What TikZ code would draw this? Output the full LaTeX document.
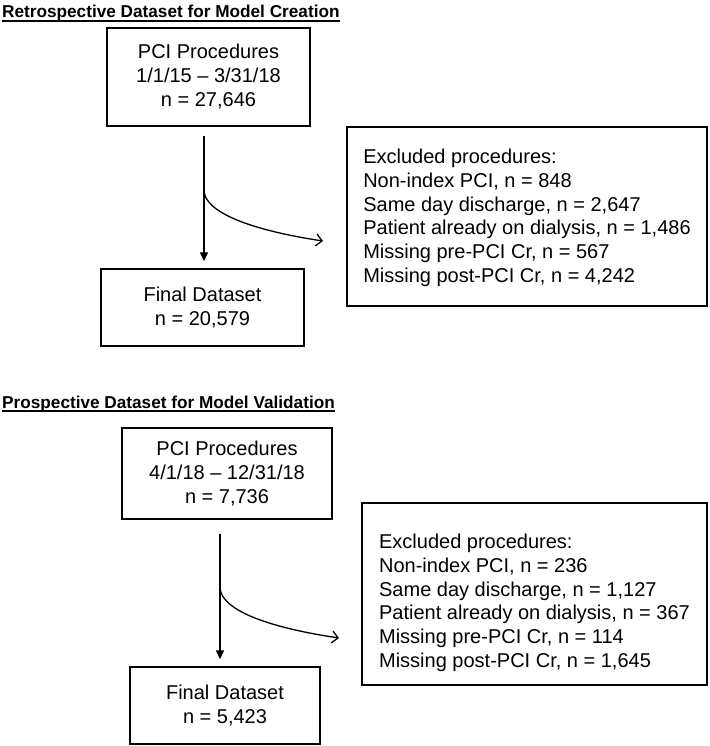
\documentclass[tikz,border=0pt]{standalone}
\usepackage{fontspec}
\setmainfont{Liberation Sans}
\usetikzlibrary{arrows.meta}
\begin{document}
\begin{tikzpicture}[x=1pt,y=-1pt,
  box/.style={draw,line width=1.4pt,align=center,inner sep=0pt,font=\fontsize{20}{24}\selectfont},
  exclbox/.style={draw,line width=1.4pt,align=left,inner sep=0pt,font=\fontsize{20}{23.7}\selectfont},
  heading/.style={anchor=base west,inner sep=0pt,font=\fontsize{17.2}{20}\selectfont\bfseries},
  rule/.style={line width=1.3pt},
  flow/.style={line width=1.3pt,-{Triangle[length=9pt,width=8pt]}},
  branch/.style={line width=1.3pt,-{Straight Barb[length=6pt,width=12pt]}}]
\useasboundingbox (0,0) rectangle (709,746);
% retrospective part
\node[heading] (title1) at (2,18) {Retrospective Dataset for Model Creation};
\draw[rule] ([yshift=-3pt]title1.base west) -- ([yshift=-3pt]title1.base east);
\node[box,minimum width=203pt,minimum height=98pt] (pci1) at (208.5,77) {PCI Procedures\\1/1/15 -- 3/31/18\\n = 27,646};
\node[box,minimum width=203pt,minimum height=77pt] (final1) at (202.5,307.5) {Final Dataset\\n = 20,579};
\node[exclbox,minimum width=360pt,minimum height=179pt] (excl1) at (527,216.5) {\rule{0pt}{17pt}Excluded procedures:\\Non-index PCI, n = 848\\Same day discharge, n = 2,647\\Patient already on dialysis, n = 1,486\\Missing pre-PCI Cr, n = 567\\Missing post-PCI Cr, n = 4,242};
\coordinate (split1) at (204,190);
\coordinate (tip1) at (323,241);
\path[draw,flow,shorten <=9pt,shorten >=7pt] (pci1.south -| split1) -- (final1.north -| split1);
\path[draw,branch] (split1) .. controls (204,212) and (250,230) .. (tip1);
% prospective part
\node[heading] (title2) at (2,408) {Prospective Dataset for Model Validation};
\draw[rule] ([yshift=-3pt]title2.base west) -- ([yshift=-3pt]title2.base east);
\node[box,minimum width=210pt,minimum height=91pt] (pci2) at (227,473.5) {PCI Procedures\\4/1/18 -- 12/31/18\\n = 7,736};
\node[box,minimum width=190pt,minimum height=77pt] (final2) at (225,705.5) {Final Dataset\\n = 5,423};
\node[exclbox,minimum width=345pt,minimum height=182pt] (excl2) at (534.5,594) {\rule{0pt}{32pt}Excluded procedures:\\Non-index PCI, n = 236\\Same day discharge, n = 1,127\\Patient already on dialysis, n = 367\\Missing pre-PCI Cr, n = 114\\Missing post-PCI Cr, n = 1,645};
\coordinate (split2) at (220,587);
\coordinate (tip2) at (339,638);
\path[draw,flow,shorten <=14pt,shorten >=7pt] (pci2.south -| split2) -- (final2.north -| split2);
\path[draw,branch] (split2) .. controls (220,609) and (265,627) .. (tip2);
\end{tikzpicture}
\end{document}
